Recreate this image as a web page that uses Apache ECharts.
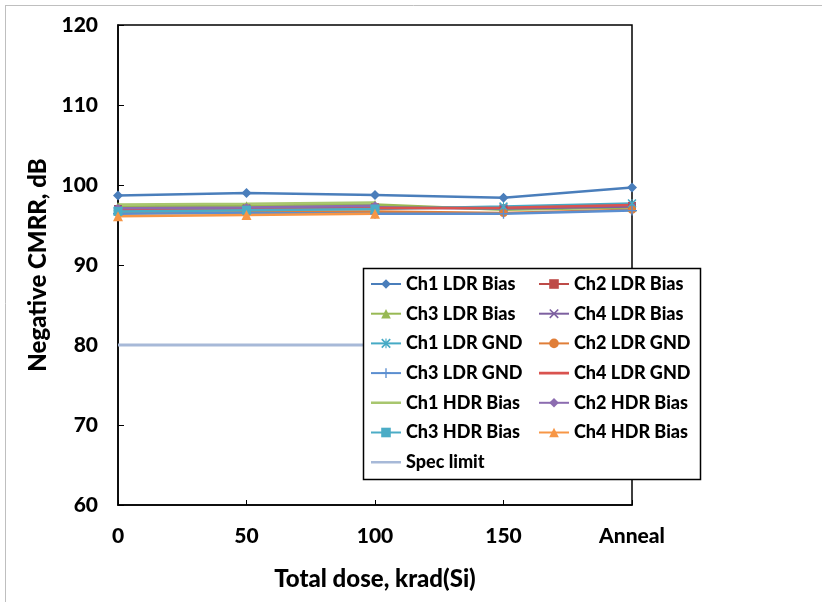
<!DOCTYPE html>
<html>
<head>
<meta charset="utf-8">
<script src="https://cdn.jsdelivr.net/npm/echarts@6/dist/echarts.min.js"></script>
<style>html,body{margin:0;padding:0;background:#fff;}#c{width:822px;height:602px;}</style>
</head>
<body>
<div id="c"></div>
<script>
var categories = ['0', '50', '100', '150', 'Anneal'];
var yTicks = { min: 60, max: 120, interval: 10 };

var ch1LdrBias = [98.7, 99.0, 98.75, 98.4, 99.7];
var ch2LdrBias = [97.0, 97.05, 97.2, 97.1, 97.4];
var ch3LdrBias = [97.3, 97.4, 97.55, 96.9, 97.2];
var ch4LdrBias = [97.0, 97.1, 97.2, 97.05, 97.3];
var ch1LdrGnd = [96.8, 96.9, 97.0, 97.3, 97.7];
var ch2LdrGnd = [96.5, 96.6, 96.7, 96.5, 96.9];
var ch3LdrGnd = [96.4, 96.5, 96.4, 96.4, 96.8];
var ch4LdrGnd = [96.9, 97.0, 97.1, 97.15, 97.5];
var ch1HdrBias = [97.55, 97.65, 97.8];
var ch2HdrBias = [97.1, 97.2, 97.4];
var ch3HdrBias = [96.7, 96.85, 97.0];
var ch4HdrBias = [96.1, 96.25, 96.4];
var specLimit = [80, 80, 80, 80, 80];

var FONT = 'Lato, "Open Sans", sans-serif';
var WEIGHT = 900;

function mk(name, data, color, symbol, size) {
  return {
    name: name, type: 'line', data: data,
    symbol: symbol || 'none', symbolSize: size || 8,
    showSymbol: !!symbol,
    lineStyle: { color: color, width: 2.5 },
    itemStyle: { color: color, borderColor: color, borderWidth: 0 },
    emphasis: { disabled: true },
    animation: false
  };
}
var xPath = 'path://M0,1.2L1.2,0L10,8.8L8.8,10Z M8.8,0L10,1.2L1.2,10L0,8.8Z';
var starPath = 'path://M0,1.2L1.2,0L10,8.8L8.8,10Z M8.8,0L10,1.2L1.2,10L0,8.8Z M4.4,0H5.6V10H4.4Z';
var plusPath = 'path://M4.3,0H5.7V4.3H10V5.7H5.7V10H4.3V5.7H0V4.3H4.3Z';
var lineIcon = 'path://M0,0L0.01,0L0,0.01Z M30,12L29.99,12L30,11.99Z M0,4.7H30V7.3H0Z';

var series = [
  mk('Ch1 LDR Bias', ch1LdrBias, '#4A7EBB', 'diamond', 10),
  mk('Ch2 LDR Bias', ch2LdrBias, '#BE4B48', 'rect', 8),
  mk('Ch3 LDR Bias', ch3LdrBias, '#98B954', 'triangle', 9),
  mk('Ch4 LDR Bias', ch4LdrBias, '#7D60A0', xPath, 8),
  mk('Ch1 LDR GND', ch1LdrGnd, '#46AAC5', starPath, 9),
  mk('Ch2 LDR GND', ch2LdrGnd, '#E07E38', 'circle', 8),
  mk('Ch3 LDR GND', ch3LdrGnd, '#5B8ED0', plusPath, 10),
  mk('Ch4 LDR GND', ch4LdrGnd, '#D9534F', null),
  mk('Ch1 HDR Bias', ch1HdrBias, '#A8C66E', null),
  mk('Ch2 HDR Bias', ch2HdrBias, '#8C6CB0', 'diamond', 9),
  mk('Ch3 HDR Bias', ch3HdrBias, '#4BACC6', 'rect', 9),
  mk('Ch4 HDR Bias', ch4HdrBias, '#F79646', 'triangle', 10),
  mk('Spec limit', specLimit, '#A7B9D8', null)
];
series[series.length - 1].lineStyle.width = 3;
series[series.length - 1].z = 1;

function legendItems(idxs) {
  return idxs.map(function (i) {
    var s = series[i];
    if (s.symbol === 'none') return { name: s.name, icon: lineIcon, itemStyle: { color: s.lineStyle.color } };
    return { name: s.name };
  });
}
var legendCommon = {
  orient: 'vertical', padding: 0, itemGap: 9.7, itemWidth: 30, itemHeight: 12,
  selectedMode: false, z: 5,
  textStyle: { color: '#000', fontFamily: FONT, fontWeight: WEIGHT, fontSize: 18, lineHeight: 20 }
};

var chart = echarts.init(document.getElementById('c'), null, { renderer: 'canvas' });
chart.setOption({
  backgroundColor: '#ffffff',
  animation: false,
  grid: { left: 118, right: 190, top: 25, bottom: 97, show: true, borderColor: '#000', borderWidth: 1.5, containLabel: false },
  xAxis: {
    type: 'category', data: categories, boundaryGap: false,
    axisLine: { lineStyle: { color: '#000', width: 1.5 } },
    axisTick: { inside: true, length: 5, lineStyle: { color: '#000' }, alignWithLabel: true },
    axisLabel: { color: '#000', fontFamily: FONT, fontWeight: WEIGHT, fontSize: 21, margin: 21 },
    splitLine: { show: false },
    name: 'Total dose, krad(Si)', nameLocation: 'middle', nameGap: 62,
    nameTextStyle: { color: '#000', fontFamily: FONT, fontWeight: WEIGHT, fontSize: 24 }
  },
  yAxis: {
    type: 'value', min: yTicks.min, max: yTicks.max, interval: yTicks.interval,
    axisLine: { show: true, lineStyle: { color: '#000', width: 1.5 } },
    axisTick: { show: true, inside: true, length: 6, lineStyle: { color: '#000' } },
    axisLabel: { color: '#000', fontFamily: FONT, fontWeight: WEIGHT, fontSize: 21, margin: 20 },
    splitLine: { show: false },
    name: 'Negative CMRR, dB', nameLocation: 'middle', nameGap: 66,
    nameTextStyle: { color: '#000', fontFamily: FONT, fontWeight: WEIGHT, fontSize: 24 }
  },
  legend: [
    Object.assign({}, legendCommon, { left: 370, top: 274, data: legendItems([0, 2, 4, 6, 8, 10, 12]) }),
    Object.assign({}, legendCommon, { left: 538, top: 274, data: legendItems([1, 3, 5, 7, 9, 11]) })
  ],
  graphic: [
    { type: 'line', shape: { x1: 5, y1: 5.5, x2: 822, y2: 5.5 }, style: { stroke: '#BFBFBF', lineWidth: 1 }, silent: true },
    { type: 'line', shape: { x1: 5.5, y1: 5, x2: 5.5, y2: 602 }, style: { stroke: '#BFBFBF', lineWidth: 1 }, silent: true },
    { type: 'rect', z: 3, shape: { x: 363.5, y: 268.5, width: 337, height: 211 }, style: { fill: '#fff', stroke: '#000', lineWidth: 1.5 }, silent: true }
  ],
  series: series
});
</script>
</body>
</html>
